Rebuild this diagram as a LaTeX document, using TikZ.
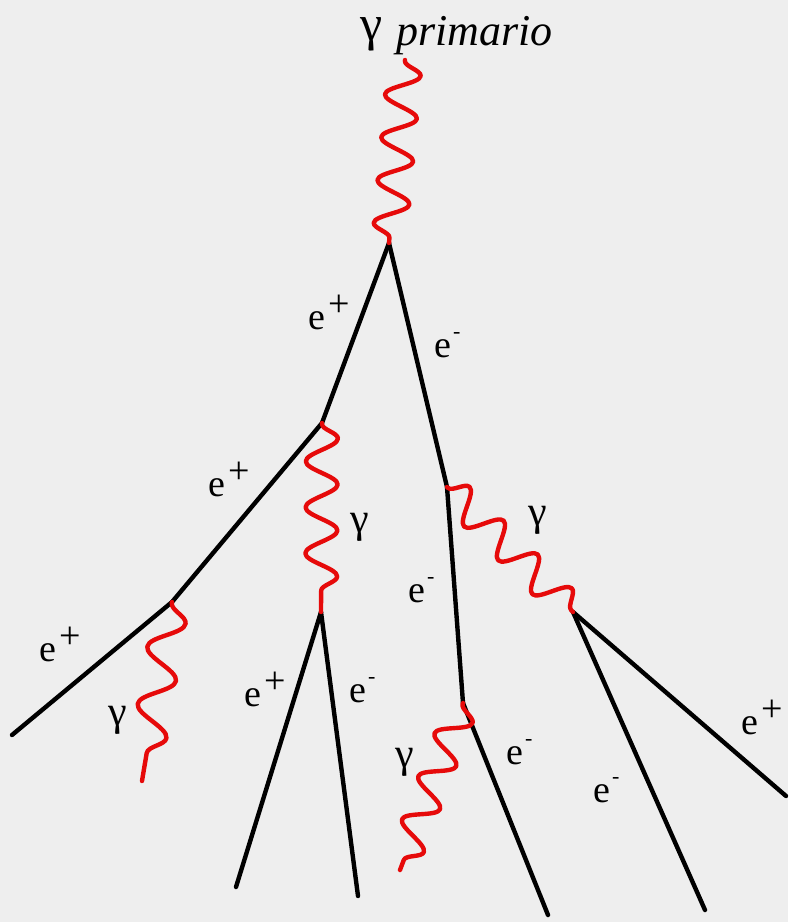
\documentclass[tikz,border=0pt]{standalone}
\usepackage{fontspec}
\setmainfont{Liberation Serif}
\newfontfamily\tnr{Liberation Serif}
\usetikzlibrary{decorations.pathmorphing}
\definecolor{bgc}{RGB}{238,238,238}
\definecolor{phred}{RGB}{230,10,10}
\newcommand\ePos{e\kern3pt\raisebox{13pt}{+}}
\newcommand\eNeg{e\kern2pt\raisebox{19pt}{\fontsize{22}{22}\selectfont\tnr -}}
\begin{document}
\begin{tikzpicture}[x=1pt,y=-1pt,
  lepton/.style={line width=4.4pt, black, line cap=round, line join=round},
  photon/.style 2 args={line width=4.4pt, phred, line cap=round, line join=round, decorate,
    decoration={snake, amplitude=#1, segment length=#2, pre length=1pt, post length=1pt}},
  lbl/.style={font=\tnr\fontsize{38}{40}\selectfont, inner sep=0pt, anchor=base west},
  glbl/.style={font=\tnr\fontsize{42}{44}\selectfont, inner sep=0pt, anchor=center}]
\fill[bgc] (0,0) rectangle (788,922);
\useasboundingbox (0,0) rectangle (788,922);
% vertices and ends
\coordinate (P0) at (405,60);
\coordinate (V1) at (389,243);
\coordinate (V2) at (322,423);
\coordinate (V3) at (447,487);
\coordinate (V4) at (172,602);
\coordinate (V5) at (321,612);
\coordinate (V6) at (463,703);
\coordinate (V7) at (573,612);
\coordinate (E1) at (12,735);
\coordinate (G4) at (142,781);
\coordinate (E2) at (236,887);
\coordinate (E3) at (358,896);
\coordinate (G5) at (400,870);
\coordinate (E4) at (548,915);
\coordinate (E5) at (705,910);
\coordinate (E6) at (786,796);
% leptons
\draw[lepton] (V1) -- (V2);
\draw[lepton] (V2) -- (V4);
\draw[lepton] (V4) -- (E1);
\draw[lepton] (V1) -- (V3);
\draw[lepton] (V3) -- (V6);
\draw[lepton] (V6) -- (E4);
\draw[lepton] (V5) -- (E2);
\draw[lepton] (V5) -- (E3);
\draw[lepton] (V7) -- (E5);
\draw[lepton] (V7) -- (E6);
% photons
\draw[photon={17pt}{43pt}] (P0) -- (V1);
\draw[photon={16pt}{46pt}] (V2) -- (V5);
\draw[photon={16pt}{48pt}] (V3) -- (V7);
\draw[photon={17pt}{58pt}] (V4) -- (G4);
\draw[photon={16pt}{46pt}] (V6) -- (G5);
% title
\node[font=\tnr\fontsize{50}{52}\selectfont, inner sep=0pt, anchor=base] (tg) at (372,40) {γ};
\node[font=\tnr\fontsize{44}{46}\selectfont\itshape, inner sep=0pt, anchor=base west] (tp) at (396,45) {primario};
% labels
\node[lbl] (l1) at (308,329) {\ePos};
\node[lbl] (l2) at (434,357) {\eNeg};
\node[lbl] (l3) at (208,496) {\ePos};
\node[glbl] (l4) at (360,527) {γ};
\node[glbl] (l5) at (538,520) {γ};
\node[lbl] (l6) at (408,602) {\eNeg};
\node[lbl] (l7) at (39,661) {\ePos};
\node[glbl] (l8) at (118,720) {γ};
\node[lbl] (l9) at (244,706) {\ePos};
\node[lbl] (l10) at (349,702) {\eNeg};
\node[glbl] (l11) at (405,762) {γ};
\node[lbl] (l12) at (506,764) {\eNeg};
\node[lbl] (l13) at (593,802) {\eNeg};
\node[lbl] (l14) at (741,734) {\ePos};
\end{tikzpicture}
\end{document}
